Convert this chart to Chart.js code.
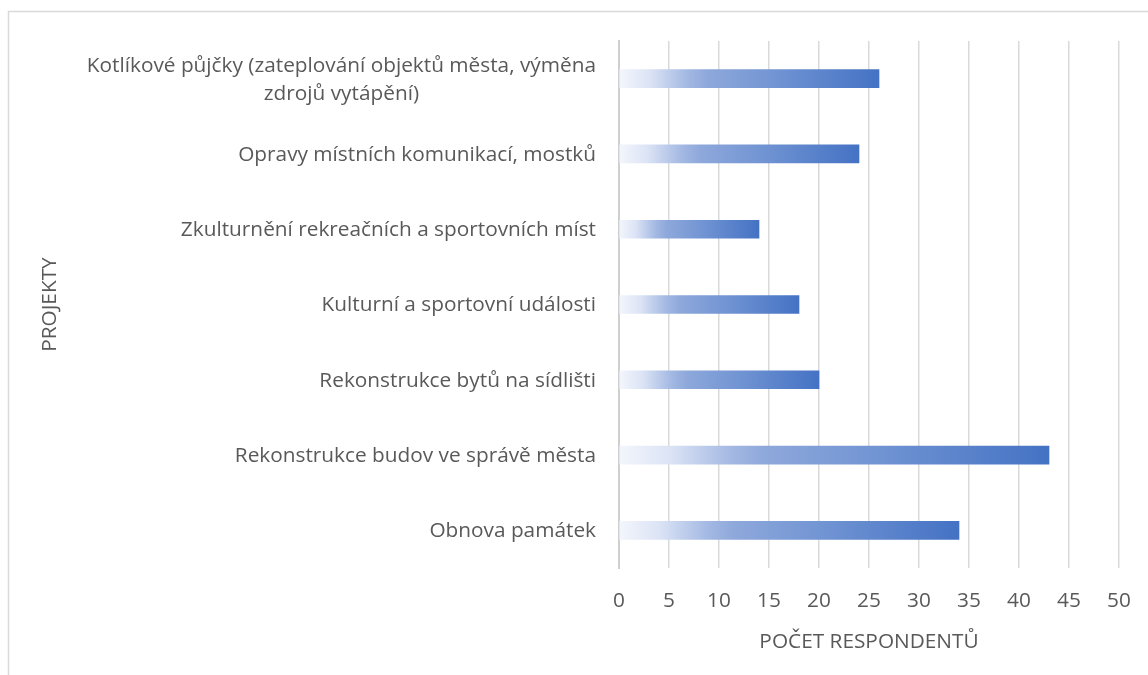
<!DOCTYPE html>
<html>
<head>
<meta charset="utf-8">
<script src="https://cdn.jsdelivr.net/npm/chart.js@4.4.1/dist/chart.umd.min.js"></script>
<style>
html, body { margin: 0; padding: 0; background: #ffffff; }
#wrap { width: 1148px; height: 675px; position: relative; }
</style>
</head>
<body>
<div id="wrap"><canvas id="c" width="1148" height="675"></canvas></div>
<script>
const categories = [
  ["Kotlíkové půjčky (zateplování objektů města, výměna", "zdrojů vytápění)"],
  "Opravy místních komunikací, mostků",
  "Zkulturnění rekreačních a sportovních míst",
  "Kulturní a sportovní události",
  "Rekonstrukce bytů na sídlišti",
  "Rekonstrukce budov ve správě města",
  "Obnova památek"
];
const respondents = [26, 24, 14, 18, 20, 43, 34];
const xTicks = [0, 5, 10, 15, 20, 25, 30, 35, 40, 45, 50];
const xTitle = "POČET RESPONDENTŮ";
const yTitle = "PROJEKTY";

const FONT = "'Open Sans', Lato, sans-serif";
const FSIZE = 20.8;
const TEXT = "#595959";

function barGradient(ctx) {
  const chart = ctx.chart;
  if (!chart.chartArea || ctx.type !== 'data') return '#4472c4';
  const xs = chart.scales.x;
  const x0 = xs.getPixelForValue(0);
  const x1 = xs.getPixelForValue(ctx.raw);
  if (!isFinite(x0) || !isFinite(x1) || x1 === x0) return '#4472c4';
  const g = chart.ctx.createLinearGradient(x0, 0, x1, 0);
  g.addColorStop(0, '#f3f6fc');
  g.addColorStop(0.12, '#dbe3f5');
  g.addColorStop(0.26, '#a4b9e3');
  g.addColorStop(0.34, '#8ea8db');
  g.addColorStop(0.6, '#7194d3');
  g.addColorStop(1, '#4472c4');
  return g;
}

const framePlugin = {
  id: 'frame',
  beforeDraw(chart) {
    const c = chart.ctx;
    c.save();
    c.fillStyle = '#ffffff';
    c.fillRect(0, 0, chart.width, chart.height);
    c.strokeStyle = '#d9d9d9';
    c.lineWidth = 1.5;
    c.beginPath();
    c.moveTo(8.5, chart.height);
    c.lineTo(8.5, 11.5);
    c.lineTo(chart.width, 11.5);
    c.stroke();
    c.restore();
  }
};

const yLabelPlugin = {
  id: 'yLabels',
  afterDraw(chart) {
    const c = chart.ctx;
    const ys = chart.scales.y;
    const rightEdge = ys.right - 23;
    const lineH = 28;
    c.save();
    c.font = FSIZE + "px " + FONT;
    c.fillStyle = TEXT;
    c.textAlign = 'center';
    c.textBaseline = 'middle';
    chart.data.labels.forEach((lab, i) => {
      const lines = Array.isArray(lab) ? lab : [lab];
      const w = Math.max(...lines.map(l => c.measureText(l).width));
      const cx = rightEdge - w / 2;
      const cy = ys.getPixelForTick(i) + 1;
      const start = cy - (lines.length - 1) * lineH / 2;
      lines.forEach((l, k) => c.fillText(l, cx, start + k * lineH));
    });
    c.restore();
  }
};

new Chart(document.getElementById('c'), {
  type: 'bar',
  data: {
    labels: categories,
    datasets: [{
      data: respondents,
      backgroundColor: barGradient,
      borderWidth: 0,
      barThickness: 18
    }]
  },
  options: {
    indexAxis: 'y',
    responsive: false,
    animation: false,
    layout: { padding: { top: 41, right: 29, bottom: 0, left: 0 } },
    plugins: { legend: { display: false }, tooltip: { enabled: false } },
    scales: {
      x: {
        min: 0, max: 50,
        afterBuildTicks(scale) { scale.ticks = xTicks.map(v => ({ value: v })); },
        afterFit(scale) { scale.height = 107; scale.paddingLeft = 0; scale.paddingRight = 0; },
        grid: { color: '#d9d9d9', lineWidth: 1.5, drawTicks: false },
        border: { display: false },
        ticks: { color: TEXT, font: { family: FONT, size: FSIZE }, padding: 21, maxRotation: 0 },
        title: { display: true, text: xTitle, color: TEXT, font: { family: FONT, size: FSIZE }, padding: { top: 0, bottom: 20 } }
      },
      y: {
        afterFit(scale) { scale.width = 619; scale.paddingTop = 0; scale.paddingBottom = 0; },
        grid: { display: false, drawTicks: false },
        border: { display: true, color: '#cfcfcf', width: 2 },
        ticks: { display: false },
        title: { display: true, text: yTitle, color: TEXT, font: { family: FONT, size: FSIZE }, padding: { top: 38, bottom: 0 } }
      }
    }
  },
  plugins: [framePlugin, yLabelPlugin]
});
</script>
</body>
</html>
